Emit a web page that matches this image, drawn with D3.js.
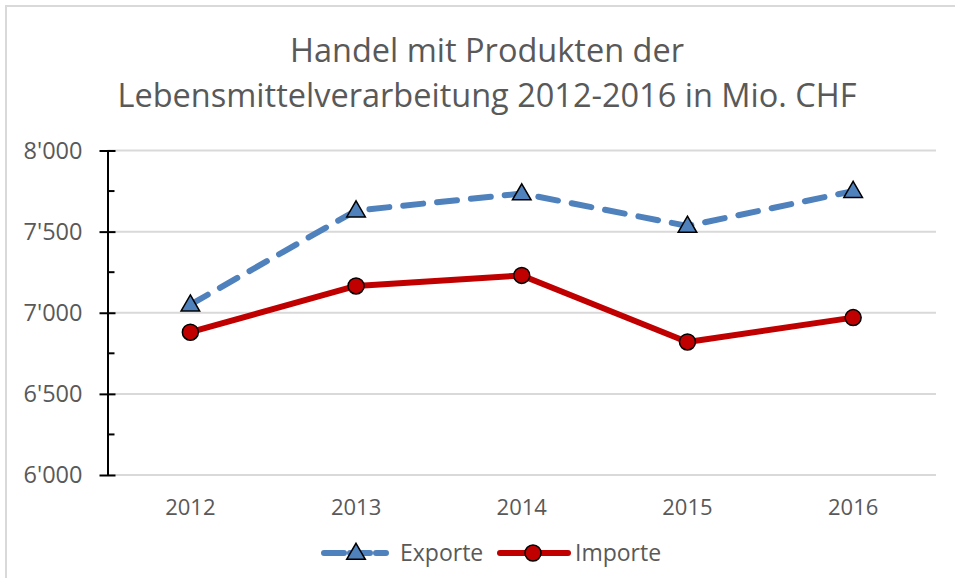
<!DOCTYPE html>
<html>
<head>
<meta charset="utf-8">
<script src="https://cdn.jsdelivr.net/npm/d3@7"></script>
<style>
  body { margin: 0; background: #fff; }
  text { font-family: "Open Sans", sans-serif; fill: #595959; }
</style>
</head>
<body>
<div id="chart"></div>
<script>
var years = ["2012", "2013", "2014", "2015", "2016"];
var exporte = [7050, 7630, 7735, 7535, 7750];
var importe = [6880, 7165, 7230, 6820, 6970];
var yTicks = [6000, 6500, 7000, 7500, 8000];
var titleLines = ["Handel mit Produkten der", "Lebensmittelverarbeitung 2012-2016 in Mio. CHF"];

var w = 955, h = 578;
var margin = { top: 150.5, right: 19, bottom: 103, left: 107.5 };
var width = w - margin.left - margin.right;
var height = h - margin.top - margin.bottom;

var svg = d3.select("#chart")
  .append("svg")
    .attr("width", w)
    .attr("height", h);

// chart border
svg.append("rect")
  .attr("x", 6).attr("y", 6)
  .attr("width", w).attr("height", h)
  .attr("fill", "none")
  .attr("stroke", "#d9d9d9")
  .attr("stroke-width", 2);

// title
svg.append("g").selectAll("text")
  .data(titleLines)
  .enter().append("text")
    .attr("x", 487)
    .attr("y", function(d, i) { return 62 + i * 45; })
    .attr("text-anchor", "middle")
    .style("font-size", "32.5px")
    .text(function(d) { return d; });

var g = svg.append("g")
  .attr("transform", "translate(" + margin.left + "," + margin.top + ")");

var xScale = d3.scaleBand().domain(years).range([0, width]);
var yScale = d3.scaleLinear().domain([6000, 8000]).range([height, 0]);

// gridlines
g.append("g").selectAll("line")
  .data(yTicks)
  .enter().append("line")
    .attr("x1", 0).attr("x2", width)
    .attr("y1", function(d) { return yScale(d); })
    .attr("y2", function(d) { return yScale(d); })
    .attr("stroke", "#d9d9d9")
    .attr("stroke-width", 2);

// minor ticks (inside)
g.append("g").selectAll("line")
  .data([6250, 6750, 7250, 7750])
  .enter().append("line")
    .attr("x1", 0).attr("x2", 7)
    .attr("y1", function(d) { return yScale(d); })
    .attr("y2", function(d) { return yScale(d); })
    .attr("stroke", "#000")
    .attr("stroke-width", 2);

// y axis with crossing major ticks
var yAxis = d3.axisLeft(yScale)
  .tickValues(yTicks)
  .tickSize(0)
  .tickPadding(25)
  .tickFormat(function(d) { return d3.format(",")(d).replace(",", "'"); });

var yG = g.append("g").call(yAxis);
yG.select(".domain").attr("stroke", "#000").attr("stroke-width", 2);
yG.selectAll(".tick line")
  .attr("x1", -8).attr("x2", 8)
  .attr("stroke", "#000").attr("stroke-width", 2);
yG.selectAll(".tick text")
  .style("font-size", "23.5px")
  .style("fill", "#595959")
  .style("font-family", "'Open Sans', sans-serif");

// x axis labels
var xAxis = d3.axisBottom(xScale).tickSize(0).tickPadding(24);
var xG = g.append("g").attr("transform", "translate(0," + height + ")").call(xAxis);
xG.select(".domain").remove();
xG.selectAll(".tick text")
  .style("font-size", "22px")
  .style("fill", "#595959")
  .style("font-family", "'Open Sans', sans-serif");

function cx(d, i) { return xScale(years[i]) + xScale.bandwidth() / 2; }

var line = d3.line()
  .x(function(d, i) { return cx(d, i); })
  .y(function(d) { return yScale(d); });

var triangle = d3.symbol().type(d3.symbolTriangle).size(150);

// Exporte
g.append("path")
  .datum(exporte)
  .attr("d", line)
  .attr("fill", "none")
  .attr("stroke", "#4f81bd")
  .attr("stroke-width", 6)
  .attr("stroke-dasharray", "20,14")
  .attr("stroke-linecap", "round");

g.append("g").selectAll("path")
  .data(exporte)
  .enter().append("path")
    .attr("d", triangle)
    .attr("transform", function(d, i) { return "translate(" + cx(d, i) + "," + (yScale(d) + 1) + ")"; })
    .attr("fill", "#4f81bd")
    .attr("stroke", "#000")
    .attr("stroke-width", 1.5);

// Importe
g.append("path")
  .datum(importe)
  .attr("d", line)
  .attr("fill", "none")
  .attr("stroke", "#c00000")
  .attr("stroke-width", 6)
  .attr("stroke-linejoin", "round");

g.append("g").selectAll("circle")
  .data(importe)
  .enter().append("circle")
    .attr("cx", function(d, i) { return cx(d, i); })
    .attr("cy", function(d) { return yScale(d); })
    .attr("r", 8)
    .attr("fill", "#c00000")
    .attr("stroke", "#000")
    .attr("stroke-width", 1.5);

// legend
var legend = svg.append("g").attr("transform", "translate(0,553)");
legend.append("line")
  .attr("x1", 324).attr("x2", 386).attr("y1", 0).attr("y2", 0)
  .attr("stroke", "#4f81bd").attr("stroke-width", 6)
  .attr("stroke-dasharray", "20,6").attr("stroke-linecap", "round");
legend.append("path")
  .attr("d", triangle)
  .attr("transform", "translate(356,1)")
  .attr("fill", "#4f81bd").attr("stroke", "#000").attr("stroke-width", 1.5);
legend.append("text")
  .attr("x", 400).attr("y", 8)
  .style("font-size", "23px")
  .text("Exporte");
legend.append("line")
  .attr("x1", 500).attr("x2", 568).attr("y1", 0).attr("y2", 0)
  .attr("stroke", "#c00000").attr("stroke-width", 6).attr("stroke-linecap", "round");
legend.append("circle")
  .attr("cx", 533).attr("cy", 0).attr("r", 8)
  .attr("fill", "#c00000").attr("stroke", "#000").attr("stroke-width", 1.5);
legend.append("text")
  .attr("x", 575).attr("y", 8)
  .style("font-size", "23px")
  .text("Importe");
</script>
</body>
</html>
